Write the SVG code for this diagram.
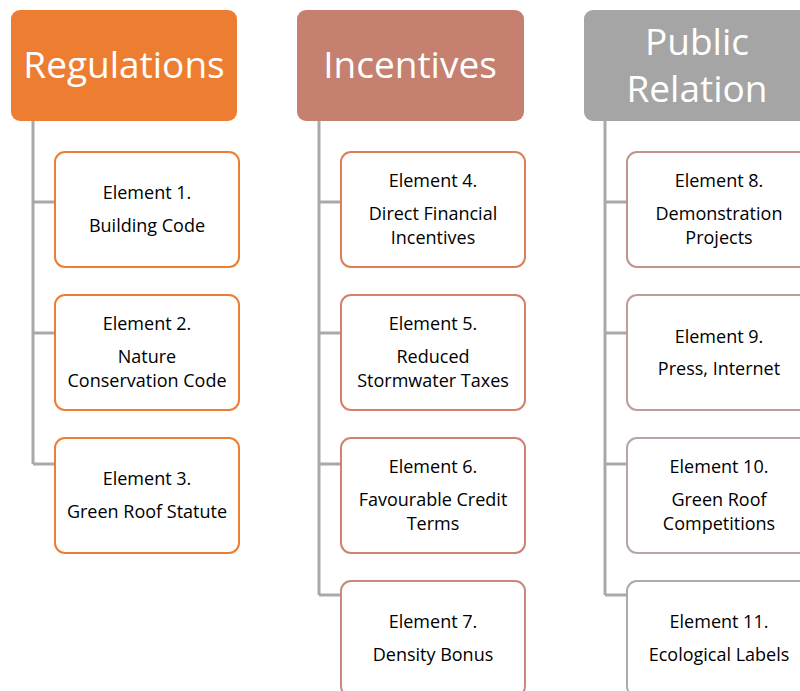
<svg xmlns="http://www.w3.org/2000/svg" width="800" height="691" viewBox="0 0 800 691">
<style>
.hdr{stroke:none}
.htxt{font-family:"Open Sans",Lato,"Liberation Sans",sans-serif;font-size:37px;fill:#fff;text-anchor:middle}
.el{fill:#fff;stroke-width:2}
.etxt{font-family:"Open Sans",Lato,"Liberation Sans",sans-serif;font-size:18px;fill:#000;text-anchor:middle}
.con{fill:none;stroke:#A9A9A9;stroke-width:3}
</style>
<rect width="800" height="691" fill="#fff"/>
<g id="connectors">
<path class="con" d="M33 121V464M33 202H55M33 333H55M33 464H55"/>
<path class="con" d="M319 121V595M319 202H341M319 333H341M319 464H341M319 595H341"/>
<path class="con" d="M605 121V595M605 202H627M605 333H627M605 464H627M605 595H627"/>
</g>
<g id="regulations">
<rect class="hdr" x="11" y="10" width="226" height="111" rx="9" fill="#ED7D31"/>
<text class="htxt" x="124" y="78">Regulations</text>
</g>
<g id="incentives">
<rect class="hdr" x="297" y="10" width="227" height="111" rx="9" fill="#C58070"/>
<text class="htxt" x="410" y="78">Incentives</text>
</g>
<g id="public-relation">
<rect class="hdr" x="584" y="10" width="226" height="111" rx="9" fill="#A5A5A5"/>
<text class="htxt" x="697" y="55">Public</text>
<text class="htxt" x="697" y="102">Relation</text>
</g>
<g id="element1">
<rect class="el" x="55" y="152" width="184" height="115" rx="10" stroke="#ED7D31"/>
<text class="etxt" x="147" y="199">Element 1.</text>
<text class="etxt" x="147" y="232">Building Code</text>
</g>
<g id="element2">
<rect class="el" x="55" y="295" width="184" height="115" rx="10" stroke="#ED7D31"/>
<text class="etxt" x="147" y="330">Element 2.</text>
<text class="etxt" x="147" y="363">Nature</text>
<text class="etxt" x="147" y="387">Conservation Code</text>
</g>
<g id="element3">
<rect class="el" x="55" y="438" width="184" height="115" rx="10" stroke="#ED7D31"/>
<text class="etxt" x="147" y="485">Element 3.</text>
<text class="etxt" x="147" y="518">Green Roof Statute</text>
</g>
<g id="element4">
<rect class="el" x="341" y="152" width="184" height="115" rx="10" stroke="#DC7F58"/>
<text class="etxt" x="433" y="187">Element 4.</text>
<text class="etxt" x="433" y="220">Direct Financial</text>
<text class="etxt" x="433" y="244">Incentives</text>
</g>
<g id="element5">
<rect class="el" x="341" y="295" width="184" height="115" rx="10" stroke="#D58068"/>
<text class="etxt" x="433" y="330">Element 5.</text>
<text class="etxt" x="433" y="363">Reduced</text>
<text class="etxt" x="433" y="387">Stormwater Taxes</text>
</g>
<g id="element6">
<rect class="el" x="341" y="438" width="184" height="115" rx="10" stroke="#CF8271"/>
<text class="etxt" x="433" y="473">Element 6.</text>
<text class="etxt" x="433" y="506">Favourable Credit</text>
<text class="etxt" x="433" y="530">Terms</text>
</g>
<g id="element7">
<rect class="el" x="341" y="581" width="184" height="115" rx="10" stroke="#C8887E"/>
<text class="etxt" x="433" y="628">Element 7.</text>
<text class="etxt" x="433" y="661">Density Bonus</text>
</g>
<g id="element8">
<rect class="el" x="627" y="152" width="184" height="115" rx="10" stroke="#C2928D"/>
<text class="etxt" x="719" y="187">Element 8.</text>
<text class="etxt" x="719" y="220">Demonstration</text>
<text class="etxt" x="719" y="244">Projects</text>
</g>
<g id="element9">
<rect class="el" x="627" y="295" width="184" height="115" rx="10" stroke="#BD9D9A"/>
<text class="etxt" x="719" y="343">Element 9.</text>
<text class="etxt" x="719" y="375">Press, Internet</text>
</g>
<g id="element10">
<rect class="el" x="627" y="438" width="184" height="115" rx="10" stroke="#B6A6A4"/>
<text class="etxt" x="719" y="473">Element 10.</text>
<text class="etxt" x="719" y="506">Green Roof</text>
<text class="etxt" x="719" y="530">Competitions</text>
</g>
<g id="element11">
<rect class="el" x="627" y="581" width="184" height="115" rx="10" stroke="#ABABAB"/>
<text class="etxt" x="719" y="628">Element 11.</text>
<text class="etxt" x="719" y="661">Ecological Labels</text>
</g>
</svg>
